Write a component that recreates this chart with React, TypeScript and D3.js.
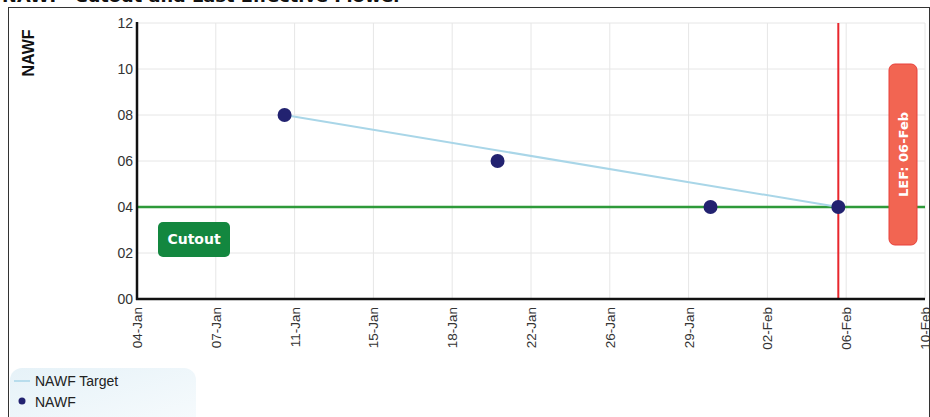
import React from "react";
import * as d3 from "d3";

const W = 930;
const H = 417;

const pointDates = ["2024-01-11", "2024-01-21", "2024-01-31", "2024-02-06"];
const nawfValues = [8, 6, 4, 4];
const targetDates = ["2024-01-11", "2024-02-06"];
const targetValues = [8, 4];
const cutoutValue = 4;
const lefDate = "2024-02-06";
const lefLabel = "LEF: 06-Feb";
const yTicks = [0, 2, 4, 6, 8, 10, 12];
const xDomain = ["2024-01-04", "2024-02-10"];
const legendItems = ["NAWF Target", "NAWF"];
const title = "NAWF- Cutout and Last Effective Flower";

const parse = d3.utcParse("%Y-%m-%d");
const fmt = d3.utcFormat("%d-%b");

export default function App() {
  const left = 137;
  const right = 925;
  const top = 23;
  const bottom = 299;
  const x = d3.scaleUtc().domain(xDomain.map((d) => parse(d)!)).range([left, right]);
  const y = d3.scaleLinear().domain([0, 12]).range([bottom, top]);
  const t0 = x.domain()[0].getTime();
  const t1 = x.domain()[1].getTime();
  const xTicks = d3.range(11).map((i) => new Date(t0 + ((t1 - t0) * i) / 10));

  const pts = pointDates.map((d, i) => ({ x: x(parse(d)!) - 1.5, y: y(nawfValues[i]) }));
  const tgt = targetDates.map((d, i) => ({ x: x(parse(d)!) - 1.5, y: y(targetValues[i]) }));
  const line = d3.line<{ x: number; y: number }>().x((d) => d.x).y((d) => d.y);
  const lefX = x(parse(lefDate)!) - 1.5;
  const font = "Arial, 'Liberation Sans', sans-serif";

  return (
    <svg width={W} height={H} style={{ position: "absolute", left: 0, top: 0, background: "#fff" }} fontFamily={font}>
      <defs>
        <linearGradient id="lg" x1="0" y1="0" x2="1" y2="1">
          <stop offset="0" stopColor="#e6f2f8" />
          <stop offset="1" stopColor="#f7fbfd" />
        </linearGradient>
      </defs>
      <text x={2} y={2} fontSize={16} fontWeight="bold" fill="#111" textLength={400} lengthAdjust="spacingAndGlyphs" fontFamily="Verdana, 'DejaVu Sans', sans-serif">
        {title}
      </text>
      <rect x={8.5} y={7.5} width={921} height={420} fill="none" stroke="#333" strokeWidth={1} />
      {/* grid */}
      {yTicks.map((t) => (
        <line key={"gy" + t} x1={left} x2={right} y1={y(t)} y2={y(t)} stroke="#e6e6e6" strokeWidth={1} />
      ))}
      {xTicks.map((t, i) => (
        <line key={"gx" + i} x1={x(t)} x2={x(t)} y1={top} y2={bottom} stroke="#e6e6e6" strokeWidth={1} />
      ))}
      {/* cutout line */}
      <line x1={left} x2={right} y1={y(cutoutValue)} y2={y(cutoutValue)} stroke="#2e9a3a" strokeWidth={2.5} />
      {/* LEF line */}
      <line x1={lefX} x2={lefX} y1={top} y2={bottom} stroke="#e8262c" strokeWidth={2} />
      {/* target line */}
      <path d={line(tgt) || ""} fill="none" stroke="#a9d6e8" strokeWidth={2} />
      {/* points */}
      {pts.map((p, i) => (
        <circle key={"p" + i} cx={p.x} cy={p.y} r={7} fill="#222270" />
      ))}
      {/* axes */}
      <line x1={left} x2={left} y1={top - 1} y2={bottom + 1} stroke="#111" strokeWidth={2.5} />
      <line x1={left - 1} x2={right} y1={bottom} y2={bottom} stroke="#111" strokeWidth={2.5} />
      {yTicks.map((t) => (
        <text key={"yl" + t} x={left - 4} y={y(t) + 5} fontSize={14} textAnchor="end" fill="#333">
          {d3.format("02d")(t)}
        </text>
      ))}
      {xTicks.map((t, i) => (
        <text
          key={"xl" + i}
          transform={`translate(${x(t) + 5},${bottom + 8}) rotate(-90)`}
          fontSize={13.5}
          textAnchor="end"
          fill="#333"
        >
          {fmt(t)}
        </text>
      ))}
      <text transform={`translate(34,53) rotate(-90)`} fontSize={16} fontWeight="bold" textAnchor="middle" fill="#111">
        NAWF
      </text>
      {/* Cutout label */}
      <rect x={158} y={222} width={72} height={35} rx={5} fill="#13873f" />
      <text x={194} y={244} fontSize={14} fontWeight="bold" textAnchor="middle" fill="#fff" fontFamily="Verdana, 'DejaVu Sans', sans-serif">
        Cutout
      </text>
      {/* LEF label */}
      <rect x={889} y={64} width={28} height={181} rx={6} fill="#f26552" stroke="#e8403a" strokeWidth={1} />
      <text
        transform={`translate(908,${(64 + 245) / 2}) rotate(-90)`}
        fontSize={13}
        fontWeight="bold"
        textAnchor="middle"
        fill="#fff"
        fontFamily="Verdana, 'DejaVu Sans', sans-serif"
      >
        {lefLabel}
      </text>
      {/* legend */}
      <rect x={10} y={368} width={186} height={60} rx={12} fill="url(#lg)" />
      <line x1={14} x2={30} y1={381} y2={381} stroke="#a9d6e8" strokeWidth={1.5} />
      <text x={35} y={386} fontSize={14} fill="#222">
        {legendItems[0]}
      </text>
      <circle cx={22} cy={401} r={3.5} fill="#222270" />
      <text x={35} y={407} fontSize={14} fill="#222">
        {legendItems[1]}
      </text>
    </svg>
  );
}
